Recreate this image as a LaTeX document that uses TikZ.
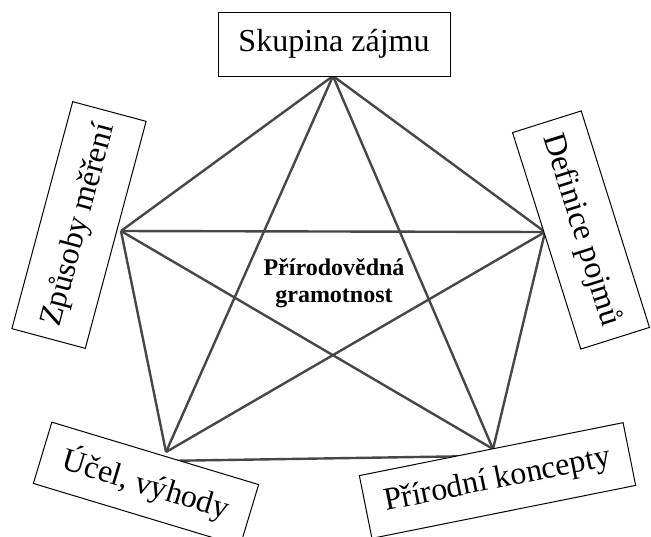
\documentclass[tikz,border=0pt]{standalone}
\usepackage{fontspec}
\setmainfont{Liberation Serif}
\usetikzlibrary{backgrounds}

\begin{document}
\begin{tikzpicture}[x=0.5pt,y=-0.5pt,
  box/.style={draw,fill=white,line width=0.5pt,inner sep=0pt,font=\fontsize{16}{19}\selectfont},
  link/.style={draw=black!72,line width=1.2pt}]
\clip (0,0) rectangle (651,536);
\node[box,minimum width=116pt,minimum height=32pt] (skupina) at (334,44) {Skupina zájmu};
\node[box,minimum width=117.5pt,minimum height=38pt,rotate=75] (zpusoby) at (79,225) {Způsoby měření};
\node[box,minimum width=113.5pt,minimum height=36pt,rotate=-72.5] (definice) at (581,230) {Definice pojmů};
\node[box,minimum width=108pt,minimum height=32pt,rotate=-16.8] (ucel) at (146,484) {Účel, výhody};
\node[box,minimum width=134.5pt,minimum height=32pt,rotate=11.35] (koncepty) at (497.5,480.5) {Přírodní koncepty};
\node[inner sep=1pt,align=center,font=\fontsize{12}{13.5}\selectfont\bfseries] (gramotnost) at (334,283) {Přírodovědná\\gramotnost};
% corners of the star
\coordinate (t) at (333,76);
\coordinate (l) at (121,231);
\coordinate (r) at (545,232);
\coordinate (bl) at (166,452);
\coordinate (br) at (493,449);
\coordinate (blin) at (160,461);
\coordinate (brin) at (480,456);
\begin{scope}[on background layer]
\draw[link] (t) -- (l);
\draw[link] (t) -- (r);
\draw[link] (l) -- (r);
\draw[link] (l) -- (bl);
\draw[link] (r) -- (br);
\draw[link] (blin) -- (brin);
\draw[link] (t) -- (bl);
\draw[link] (t) -- (br);
\draw[link] (l) -- (br);
\draw[link] (r) -- (bl);
\end{scope}
\end{tikzpicture}
\end{document}
